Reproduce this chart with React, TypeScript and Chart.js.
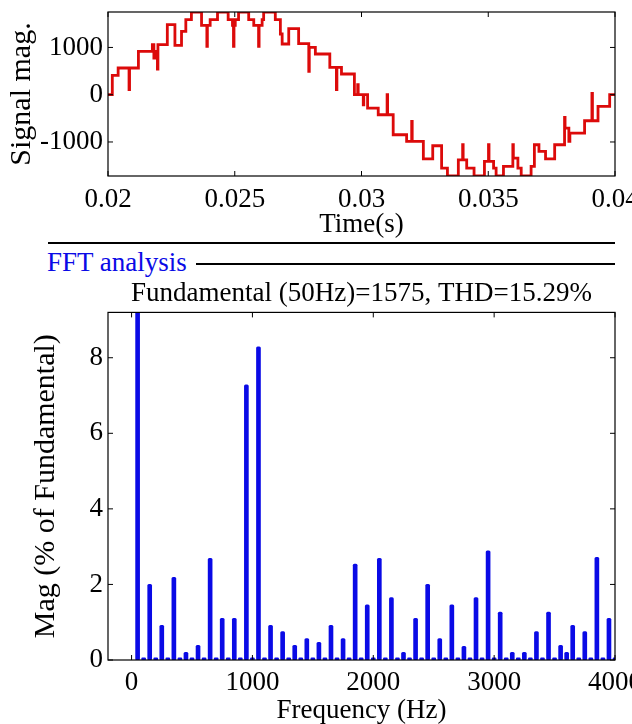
import React, { useEffect, useRef } from 'react';
import { Chart, registerables } from 'chart.js';

Chart.register(...registerables);

const FONT = "'Liberation Serif', 'Times New Roman', serif";
const RED = '#dc0a0a';
const BLUE = '#0a0ae6';

// ---------- Top panel: stepped signal (time in s, magnitude) ----------
const signalTimeS = [
  0.02, 0.02017, 0.0204, 0.02083, 0.02085, 0.0212, 0.02175, 0.02181, 0.02184, 0.02195,
  0.02197, 0.02234, 0.02264, 0.0229, 0.02307, 0.02329, 0.02369, 0.0239, 0.02392, 0.02403,
  0.02432, 0.02474, 0.02491, 0.02495, 0.02497, 0.02502, 0.02515, 0.02555, 0.02575, 0.02594,
  0.02596, 0.02608, 0.02614, 0.0266, 0.0268, 0.02687, 0.02713, 0.02752, 0.02792, 0.02794,
  0.02818, 0.02875, 0.02901, 0.02903, 0.02921, 0.02972, 0.02985, 0.02987, 0.03007, 0.03009,
  0.03024, 0.03066, 0.03101, 0.03103, 0.03125, 0.03178, 0.03198, 0.032, 0.03244, 0.03281,
  0.03316, 0.03339, 0.03382, 0.03399, 0.03401, 0.03415, 0.03444, 0.03485, 0.03501, 0.03503,
  0.03521, 0.03531, 0.0356, 0.03597, 0.03599, 0.03617, 0.0363, 0.03669, 0.03682, 0.037,
  0.03726, 0.03762, 0.03801, 0.03803, 0.03818, 0.03822, 0.0388, 0.03909, 0.03911, 0.03933,
  0.03979, 0.04,
];
const signalMag = [
  0, 410, 565, 106, 565, 918, 1060, 777, 918, 544,
  1060, 1483, 1045, 1342, 1589, 1750, 1469, 1024, 1469, 1589,
  1750, 1589, 1469, 1024, 1469, 1589, 1750, 1589, 1469, 1024,
  1469, 1589, 1750, 1589, 1285, 1073, 1398, 1080, 494, 1003,
  861, 579, 106, 579, 438, 0, 212, 0, -212, 0,
  -282, -424, 0, -424, -847, -989, -565, -989, -1356, -1080,
  -1554, -1720, -1377, -1059, -1377, -1554, -1720, -1412, -1059, -1412,
  -1554, -1720, -1518, -1059, -1342, -1554, -1720, -1518, -1059, -1200,
  -1356, -1059, -480, -706, -989, -812, -551, 30, -551, -247,
  0, 0,
];
const timeTicks = [0.02, 0.025, 0.03, 0.035, 0.04];
const signalTicks = [-1000, 0, 1000];

// ---------- Bottom panel: FFT spectrum ----------
const fftFreqHz = [
  50, 100, 150, 200, 250, 300, 350, 400, 450, 500,
  550, 600, 650, 700, 750, 800, 850, 900, 950, 1000,
  1050, 1100, 1150, 1200, 1250, 1300, 1350, 1400, 1450, 1500,
  1550, 1600, 1650, 1700, 1750, 1800, 1850, 1900, 1950, 2000,
  2050, 2100, 2150, 2200, 2250, 2300, 2350, 2400, 2450, 2500,
  2550, 2600, 2650, 2700, 2750, 2800, 2850, 2900, 2950, 3000,
  3050, 3100, 3150, 3200, 3250, 3300, 3350, 3400, 3450, 3500,
  3550, 3600, 3650, 3700, 3750, 3800, 3850, 3900, 3950, 4000,
];
const fftMagPct = [
  100, 0.06, 2.0, 0.06, 0.92, 0.06, 2.19, 0.06, 0.2, 0.06,
  0.39, 0.06, 2.69, 0.06, 1.1, 0.06, 1.1, 0.06, 7.28, 0.06,
  8.29, 0.06, 0.92, 0.06, 0.75, 0.06, 0.39, 0.06, 0.57, 0.06,
  0.47, 0.06, 0.92, 0.06, 0.57, 0.06, 2.54, 0.06, 1.46, 0.06,
  2.69, 0.06, 1.65, 0.06, 0.2, 0.06, 1.1, 0.06, 2.0, 0.06,
  0.57, 0.06, 1.46, 0.06, 0.36, 0.06, 1.65, 0.06, 2.89, 0.06,
  1.27, 0.06, 0.2, 0.06, 0.2, 0.06, 0.75, 0.06, 1.27, 0.06,
  0.39, 0.2, 0.92, 0.06, 0.75, 0.06, 2.72, 0.06, 1.1, 0.06,
];
const freqTicks = [0, 1000, 2000, 3000, 4000];
const magTicks = [0, 2, 4, 6, 8];

const fftTitle = 'Fundamental (50Hz)=1575, THD=15.29%';

const boxPlugin = {
  id: 'matlabBox',
  afterDraw(chart: any) {
    const { ctx, chartArea, scales } = chart;
    const { left, right, top, bottom } = chartArea;
    ctx.save();
    ctx.strokeStyle = '#000';
    ctx.lineWidth = 1.2;
    ctx.strokeRect(left, top, right - left, bottom - top);
    ctx.lineWidth = 1;
    const len = 5;
    const seg = (x1: number, y1: number, x2: number, y2: number) => {
      ctx.beginPath();
      ctx.moveTo(x1, y1);
      ctx.lineTo(x2, y2);
      ctx.stroke();
    };
    scales.x.ticks.forEach((t: any) => {
      const px = scales.x.getPixelForValue(t.value);
      seg(px, bottom, px, bottom - len);
      seg(px, top, px, top + len);
    });
    scales.y.ticks.forEach((t: any) => {
      const py = scales.y.getPixelForValue(t.value);
      seg(left, py, left + len, py);
      seg(right, py, right - len, py);
    });
    ctx.restore();
  },
};

const fontOf = (size: number, lineHeight = 1.2) => ({ family: FONT, size, lineHeight });

export default function App() {
  const topRef = useRef<HTMLCanvasElement>(null);
  const botRef = useRef<HTMLCanvasElement>(null);

  useEffect(() => {
    const top = new Chart(topRef.current as HTMLCanvasElement, {
      type: 'line',
      data: {
        datasets: [
          {
            data: signalTimeS.map((t, i) => ({ x: t, y: signalMag[i] })),
            stepped: 'before',
            borderColor: RED,
            borderWidth: 2.8,
            pointRadius: 0,
            fill: false,
          },
        ],
      },
      options: {
        responsive: false,
        animation: false,
        layout: { padding: { top: 12, right: 17, left: 0, bottom: 0 } },
        plugins: { legend: { display: false }, tooltip: { enabled: false } },
        scales: {
          x: {
            type: 'linear',
            min: 0.02,
            max: 0.04,
            afterBuildTicks: (s: any) => { s.ticks = timeTicks.map((v) => ({ value: v })); },
            afterFit: (s: any) => { s.height = 66; s.paddingLeft = 0; s.paddingRight = 0; },
            grid: { display: false, drawTicks: false },
            border: { display: false },
            ticks: { color: '#000', font: fontOf(27), padding: 8, maxRotation: 0, autoSkip: false, callback: (v: any) => String(v) },
            title: { display: true, text: 'Time(s)', color: '#000', font: fontOf(27, 1.0), padding: { top: 0, bottom: 4 } },
          },
          y: {
            type: 'linear',
            min: -1720,
            max: 1750,
            afterBuildTicks: (s: any) => { s.ticks = signalTicks.map((v) => ({ value: v })); },
            afterFit: (s: any) => { s.width = 108; s.paddingTop = 0; s.paddingBottom = 0; },
            grid: { display: false, drawTicks: false },
            border: { display: false },
            ticks: { color: '#000', font: fontOf(27), padding: 5, autoSkip: false, callback: (v: any) => String(v) },
            title: { display: true, text: 'Signal mag.', color: '#000', font: fontOf(30, 1.0), padding: { top: 7, bottom: 0 } },
          },
        },
      } as any,
      plugins: [boxPlugin],
    });

    const bot = new Chart(botRef.current as HTMLCanvasElement, {
      type: 'bar',
      data: {
        datasets: [
          {
            data: fftFreqHz.map((f, i) => ({ x: f, y: fftMagPct[i] })),
            backgroundColor: BLUE,
            barThickness: 4,
            borderRadius: 1.5,
            borderSkipped: false,
          },
        ],
      },
      options: {
        responsive: false,
        animation: false,
        layout: { padding: { top: 0, right: 17, left: 0, bottom: 0 } },
        plugins: {
          legend: { display: false },
          tooltip: { enabled: false },
          title: {
            display: true,
            text: fftTitle,
            color: '#000',
            font: { family: FONT, size: 27, weight: 'normal' },
            padding: { top: 2, bottom: 2 },
            fullSize: false,
          },
        },
        scales: {
          x: {
            type: 'linear',
            min: -195,
            max: 4000,
            offset: false,
            afterBuildTicks: (s: any) => { s.ticks = freqTicks.map((v) => ({ value: v })); },
            afterFit: (s: any) => { s.height = 64; s.paddingLeft = 0; s.paddingRight = 0; },
            grid: { display: false, drawTicks: false },
            border: { display: false },
            ticks: { color: '#000', font: fontOf(27), padding: 7, maxRotation: 0, autoSkip: false, callback: (v: any) => String(v) },
            title: { display: true, text: 'Frequency (Hz)', color: '#000', font: fontOf(27, 1.0), padding: { top: 0, bottom: 0 } },
          },
          y: {
            type: 'linear',
            min: 0,
            max: 9.2,
            afterBuildTicks: (s: any) => { s.ticks = magTicks.map((v) => ({ value: v })); },
            afterFit: (s: any) => { s.width = 108; s.paddingTop = 0; s.paddingBottom = 0; },
            grid: { display: false, drawTicks: false },
            border: { display: false },
            ticks: { color: '#000', font: fontOf(27), padding: 5, autoSkip: false, callback: (v: any) => String(v) },
            title: { display: true, text: 'Mag (% of Fundamental)', color: '#000', font: fontOf(30, 1.0), padding: { top: 31, bottom: 0 } },
          },
        },
      } as any,
      plugins: [boxPlugin],
    });

    return () => {
      top.destroy();
      bot.destroy();
    };
  }, []);

  return (
    <div style={{ position: 'absolute', left: 0, top: 0, width: 632, height: 724, background: '#fff', overflow: 'hidden' }}>
      <canvas ref={topRef} width={632} height={242} style={{ position: 'absolute', left: 0, top: 0, width: 632, height: 242 }} />
      <div style={{ position: 'absolute', left: 48, top: 242, width: 567, height: 1.5, background: '#000' }} />
      <div
        style={{
          position: 'absolute',
          left: 47,
          top: 246,
          height: 32,
          lineHeight: '32px',
          fontFamily: FONT,
          fontSize: 27,
          color: BLUE,
          whiteSpace: 'nowrap',
        }}
      >
        FFT analysis
      </div>
      <div style={{ position: 'absolute', left: 196, top: 263, width: 419, height: 1.5, background: '#000' }} />
      <canvas ref={botRef} width={632} height={448} style={{ position: 'absolute', left: 0, top: 276, width: 632, height: 448 }} />
    </div>
  );
}
